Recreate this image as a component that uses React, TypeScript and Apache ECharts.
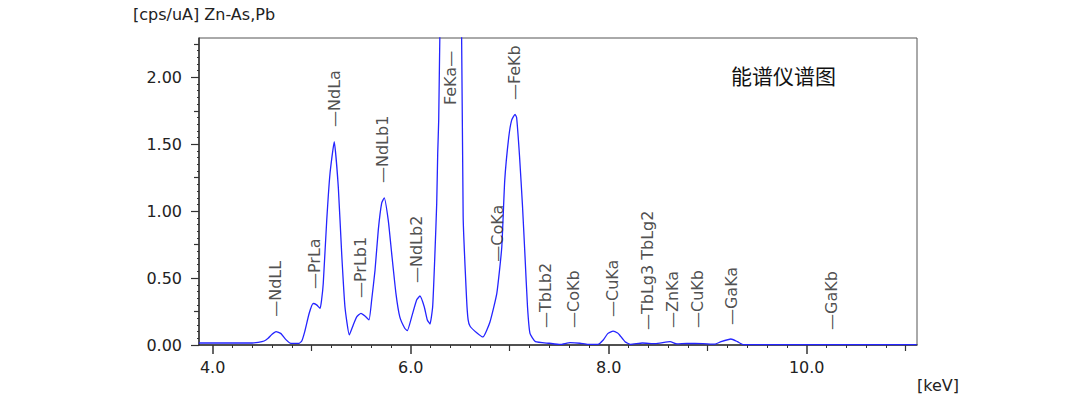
import React, { useEffect, useRef } from "react";
import * as echarts from "echarts";

// Spectrum (energy in keV, intensity in cps/uA)
const spectrumKeV = [
  3.86, 4.40, 4.46, 4.52, 4.56, 4.60, 4.64, 4.69, 4.74, 4.79, 4.87, 4.90, 4.93,
  4.975, 5.015, 5.05, 5.085, 5.10, 5.117, 5.152, 5.185, 5.228, 5.269, 5.303, 5.336,
  5.38, 5.42, 5.455, 5.498, 5.538, 5.579, 5.606, 5.64, 5.673, 5.707, 5.733, 5.774,
  5.808, 5.851, 5.89, 5.94, 5.966, 6.01, 6.06, 6.094, 6.137, 6.168, 6.195, 6.222,
  6.245, 6.263, 6.273, 6.283, 6.30, 6.35, 6.40, 6.45, 6.51, 6.53, 6.565, 6.58, 6.60,
  6.67, 6.73, 6.80, 6.87, 6.92, 6.95, 6.99, 7.02, 7.054, 7.07, 7.10, 7.13, 7.155,
  7.18, 7.205, 7.26, 7.40, 7.51, 7.61, 7.71, 7.79, 7.89, 7.945, 7.99, 8.045, 8.09,
  8.11, 8.165, 8.22, 8.34, 8.47, 8.62, 8.69, 8.79, 8.95, 9.07, 9.135, 9.235, 9.30,
  9.36, 11.11,
];
const spectrumCps = [
  0.015, 0.015, 0.02, 0.03, 0.05, 0.08, 0.10, 0.085, 0.04, 0.012, 0.012, 0.03, 0.10,
  0.237, 0.31, 0.30, 0.274, 0.336, 0.46, 0.93, 1.28, 1.519, 1.18, 0.685, 0.286,
  0.075, 0.15, 0.21, 0.237, 0.217, 0.187, 0.336, 0.56, 0.86, 1.06, 1.10, 0.93,
  0.685, 0.386, 0.21, 0.125, 0.107, 0.21, 0.336, 0.366, 0.286, 0.187, 0.157, 0.286,
  0.685, 1.06, 1.43, 1.68, 2.6, 4.6, 5.2, 4.6, 2.7, 0.96, 0.34, 0.19, 0.14,
  0.09, 0.06, 0.17, 0.386, 0.73, 1.23, 1.55, 1.68, 1.724, 1.70, 1.405, 1.03, 0.66,
  0.286, 0.087, 0.025, 0.013, 0.004, 0.017, 0.013, 0.004, 0.004, 0.037, 0.085, 0.104, 0.09,
  0.075, 0.025, 0.005, 0.015, 0.01, 0.025, 0.008, 0.012, 0.01, 0.006, 0.025, 0.045, 0.025,
  0.003, 0.003,
];

// Element line markers
const peakNames = [
  "—NdLL", "—PrLa", "—NdLa", "—PrLb1", "—NdLb1", "—NdLb2", "FeKa—", "—CoKa", "—FeKb",
  "—TbLb2", "—CoKb", "—CuKa", "—TbLg3 TbLg2", "—ZnKa", "—CuKb", "—GaKa", "—GaKb",
];
const peakKeV = [
  4.63, 5.03, 5.23, 5.49, 5.72, 6.06, 6.40, 6.88, 7.05,
  7.36, 7.64, 8.04, 8.39, 8.64, 8.90, 9.24, 10.25,
];
const peakLabelCps = [
  0.211, 0.418, 1.629, 0.351, 1.21, 0.463, 1.793, 0.622, 1.83,
  0.127, 0.127, 0.209, 0.112, 0.127, 0.127, 0.149, 0.112,
];

// Axis ticks
const xMajorTicks = [4, 6, 8, 10];
const xMidTicks = [5, 7, 9, 11];
const xMinorTicks = [
  4.2, 4.4, 4.6, 4.8, 5.2, 5.4, 5.6, 5.8, 6.2, 6.4, 6.6, 6.8, 7.2, 7.4, 7.6, 7.8,
  8.2, 8.4, 8.6, 8.8, 9.2, 9.4, 9.6, 9.8, 10.2, 10.4, 10.6, 10.8,
];
const yMajorTicks = [0, 0.5, 1, 1.5, 2];
const yMidTicks = [0.25, 0.75, 1.25, 1.75, 2.25];
const yMinorTicks = [
  0.05, 0.1, 0.15, 0.2, 0.3, 0.35, 0.4, 0.45, 0.55, 0.6, 0.65, 0.7, 0.8, 0.85, 0.9, 0.95,
  1.05, 1.1, 1.15, 1.2, 1.3, 1.35, 1.4, 1.45, 1.55, 1.6, 1.65, 1.7, 1.8, 1.85, 1.9, 1.95,
  2.05, 2.1, 2.15, 2.2, 2.25,
];

const yTitle = "[cps/uA] Zn-As,Pb";
const xUnit = "[keV]";
const chartTitle = "能谱仪谱图";

const FONT = "DejaVu Sans";
const TEXT = "#222";
const AXIS = "#333";

export default function App() {
  const ref = useRef<HTMLDivElement>(null);
  useEffect(() => {
    if (!ref.current) return;
    const chart = echarts.init(ref.current, undefined, { renderer: "svg" });
    const xMin = 3.862;
    const xMax = 11.114;
    const yMin = 0;
    const yMax = 2.294;
    const hiddenAxisBase = {
      type: "value" as const,
      min: xMin,
      max: xMax,
      position: "bottom" as const,
      offset: 0,
      axisLine: { show: false },
      axisLabel: { show: false },
      splitLine: { show: false },
    };
    const hiddenYBase = {
      type: "value" as const,
      min: yMin,
      max: yMax,
      position: "left" as const,
      offset: 0,
      axisLine: { show: false },
      axisLabel: { show: false },
      splitLine: { show: false },
    };
    chart.setOption({
      animation: false,
      grid: {
        left: 199,
        top: 38,
        width: 718,
        height: 307,
        show: true,
        borderColor: "#555",
        borderWidth: 1,
        backgroundColor: "transparent",
      },
      xAxis: [
        {
          type: "value",
          min: xMin,
          max: xMax,
          position: "bottom",
          axisLine: { show: true, lineStyle: { color: AXIS, width: 1.5 } },
          axisTick: { show: true, length: 9, customValues: xMajorTicks, lineStyle: { color: AXIS, width: 1.5 } },
          axisLabel: {
            show: true,
            customValues: xMajorTicks,
            formatter: (v: number) => v.toFixed(1),
            fontFamily: FONT,
            fontSize: 16,
            color: TEXT,
            margin: 14,
          },
          splitLine: { show: false },
        },
        {
          ...hiddenAxisBase,
          axisTick: { show: true, length: 6, customValues: xMidTicks, lineStyle: { color: AXIS, width: 1.2 } },
        },
        {
          ...hiddenAxisBase,
          axisTick: { show: true, length: 3, customValues: xMinorTicks, lineStyle: { color: AXIS, width: 1 } },
        },
      ],
      yAxis: [
        {
          type: "value",
          min: yMin,
          max: yMax,
          position: "left",
          axisLine: { show: true, lineStyle: { color: AXIS, width: 1.5 } },
          axisTick: { show: true, length: 8, customValues: yMajorTicks, lineStyle: { color: AXIS, width: 1.2 } },
          axisLabel: {
            show: true,
            customValues: yMajorTicks,
            formatter: (v: number) => v.toFixed(2),
            fontFamily: FONT,
            fontSize: 16,
            color: TEXT,
            margin: 17,
          },
          splitLine: { show: false },
        },
        {
          ...hiddenYBase,
          axisTick: { show: true, length: 5, customValues: yMidTicks, lineStyle: { color: AXIS, width: 1.2 } },
        },
        {
          ...hiddenYBase,
          axisTick: { show: true, length: 2, customValues: yMinorTicks, lineStyle: { color: AXIS, width: 1 } },
        },
      ],
      series: [
        {
          type: "line",
          xAxisIndex: 0,
          yAxisIndex: 0,
          data: spectrumKeV.map((k, i) => [k, spectrumCps[i]]),
          showSymbol: false,
          symbol: "none",
          clip: true,
          smooth: 0.15,
          lineStyle: { color: "#2424ff", width: 1.3 },
          z: 3,
        },
        {
          type: "scatter",
          xAxisIndex: 0,
          yAxisIndex: 0,
          symbolSize: 0,
          itemStyle: { color: "transparent" },
          data: peakNames.map((n, i) => ({ name: n, value: [peakKeV[i], peakLabelCps[i]] })),
          label: {
            show: true,
            position: [0, 0],
            rotate: 90,
            align: "left",
            verticalAlign: "middle",
            fontFamily: FONT,
            fontSize: 16,
            color: TEXT,
            formatter: (p: any) => p.name,
          },
          z: 4,
        },
      ],
      graphic: [
        {
          type: "text",
          left: 133,
          top: 6,
          style: { text: yTitle, fontFamily: FONT, fontSize: 16, fill: TEXT },
        },
        {
          type: "text",
          left: 917,
          top: 377,
          style: { text: xUnit, fontFamily: FONT, fontSize: 16, fill: TEXT },
        },
        {
          type: "text",
          left: 731,
          top: 64,
          style: { text: chartTitle, fontFamily: "Noto Sans CJK SC", fontSize: 21, fill: "#111" },
        },
      ],
    });
    return () => chart.dispose();
  }, []);
  return (
    <div
      ref={ref}
      style={{ position: "fixed", left: 0, top: 0, width: 1080, height: 396, background: "#fff" }}
    />
  );
}
